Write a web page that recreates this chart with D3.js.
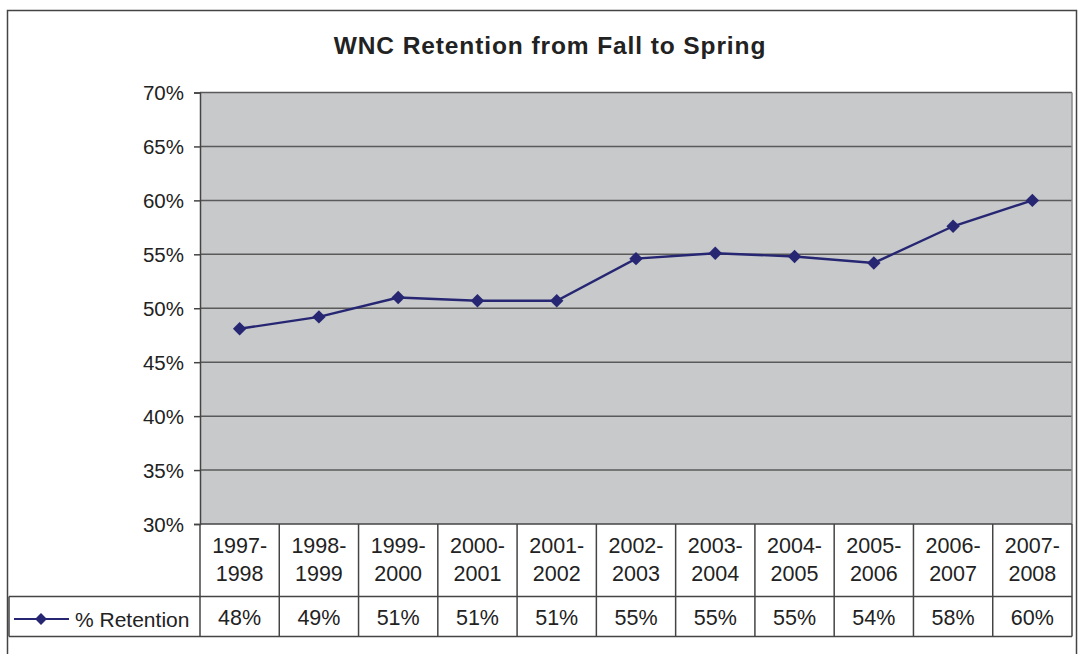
<!DOCTYPE html>
<html><head><meta charset="utf-8">
<script src="https://cdn.jsdelivr.net/npm/d3@7"></script>
<style>body{margin:0;background:#fff}svg{display:block}text{font-family:"Liberation Sans",Arial,sans-serif;fill:#222}</style>
</head><body>
<svg id="c" width="1078" height="654"></svg>
<script>
const categories = ["1997-1998","1998-1999","1999-2000","2000-2001","2001-2002","2002-2003","2003-2004","2004-2005","2005-2006","2006-2007","2007-2008"];
const retention = [48.1, 49.2, 51.0, 50.7, 50.7, 54.6, 55.1, 54.8, 54.2, 57.6, 60.0];
const tableLabels = ["48%","49%","51%","51%","51%","55%","55%","55%","54%","58%","60%"];
const yTicks = [30,35,40,45,50,55,60,65,70];
const seriesName = "% Retention";
const title = "WNC Retention from Fall to Spring";

const svg = d3.select("#c");
const L = 200, R = 1072, T = 92.5, B = 524;
const row1B = 596.5, row2B = 636.5;
const navy = "#262673";

// outer border
svg.append("rect").attr("x",7.5).attr("y",10.5).attr("width",1069).attr("height",660)
  .attr("fill","none").attr("stroke","#444").attr("stroke-width",1.5);

svg.append("text").attr("x",550).attr("y",54).attr("text-anchor","middle")
  .style("font-weight","bold").style("font-size","24.5px").style("letter-spacing","0.9px").text(title);

const x = d3.scaleBand().domain(categories).range([L,R]);
const y = d3.scaleLinear().domain([30,70]).range([B,T]);

svg.append("rect").attr("x",L).attr("y",T).attr("width",R-L).attr("height",B-T).attr("fill","#c8c9cb");

// gridlines
svg.append("g").selectAll("line").data(yTicks.slice(1)).join("line")
  .attr("x1",L).attr("x2",R).attr("y1",d=>y(d)).attr("y2",d=>y(d))
  .attr("stroke","#5a5a5a").attr("stroke-width",1.5);
svg.append("line").attr("x1",R).attr("x2",R).attr("y1",T).attr("y2",B).attr("stroke","#8a8a8a").attr("stroke-width",1.5);

// y axis
const yAxis = d3.axisLeft(y).tickValues(yTicks).tickFormat(d=>d+"%").tickSize(6).tickPadding(10);
const gy = svg.append("g").attr("transform",`translate(${L},0)`).call(yAxis);
gy.select(".domain").attr("stroke","#444").attr("stroke-width",1.5);
gy.selectAll(".tick line").attr("stroke","#444").attr("stroke-width",1.5);
gy.selectAll(".tick text").style("font-size","20.5px").style("font-family","'Liberation Sans',Arial,sans-serif").attr("fill","#222").attr("dy","0.35em");

// table grid
const tbl = svg.append("g").attr("stroke","#444").attr("stroke-width",1.5);
tbl.append("line").attr("x1",L).attr("x2",R).attr("y1",B).attr("y2",B);
tbl.append("line").attr("x1",9).attr("x2",R).attr("y1",row1B).attr("y2",row1B);
tbl.append("line").attr("x1",9).attr("x2",R).attr("y1",row2B).attr("y2",row2B);
tbl.append("line").attr("x1",9).attr("x2",9).attr("y1",row1B).attr("y2",row2B);
tbl.selectAll("line.v").data(categories.map((c,i)=>i).concat([categories.length])).join("line").attr("class","v")
  .attr("x1",i=>i<categories.length?x(categories[i]):R).attr("x2",i=>i<categories.length?x(categories[i]):R)
  .attr("y1",B).attr("y2",row2B);

// category labels
const cat = svg.append("g").selectAll("text").data(categories).join("text")
  .attr("x",d=>x(d)+x.bandwidth()/2).attr("text-anchor","middle").style("font-size","21.5px");
cat.append("tspan").attr("x",d=>x(d)+x.bandwidth()/2).attr("y",553).text(d=>d.split("-")[0]+"-");
cat.append("tspan").attr("x",d=>x(d)+x.bandwidth()/2).attr("y",581).text(d=>d.split("-")[1]);

// values row
svg.append("g").selectAll("text").data(tableLabels).join("text")
  .attr("x",(d,i)=>x(categories[i])+x.bandwidth()/2).attr("y",625).attr("text-anchor","middle")
  .style("font-size","21.5px").text(d=>d);

// legend
svg.append("line").attr("x1",14).attr("x2",69).attr("y1",619).attr("y2",619).attr("stroke",navy).attr("stroke-width",2);
svg.append("path").attr("d",d3.symbol(d3.symbolDiamond2,90)()).attr("transform","translate(41,619)").attr("fill",navy);
svg.append("text").attr("x",75).attr("y",627).style("font-size","21px").text(seriesName);

// line
const line = d3.line().x((d,i)=>x(categories[i])+x.bandwidth()/2).y(d=>y(d));
svg.append("path").datum(retention).attr("d",line).attr("fill","none").attr("stroke",navy).attr("stroke-width",2.4);
svg.append("g").selectAll("path").data(retention).join("path")
  .attr("d",d3.symbol(d3.symbolDiamond2,115)())
  .attr("transform",(d,i)=>`translate(${x(categories[i])+x.bandwidth()/2},${y(d)})`)
  .attr("fill",navy);
</script>
</body></html>
